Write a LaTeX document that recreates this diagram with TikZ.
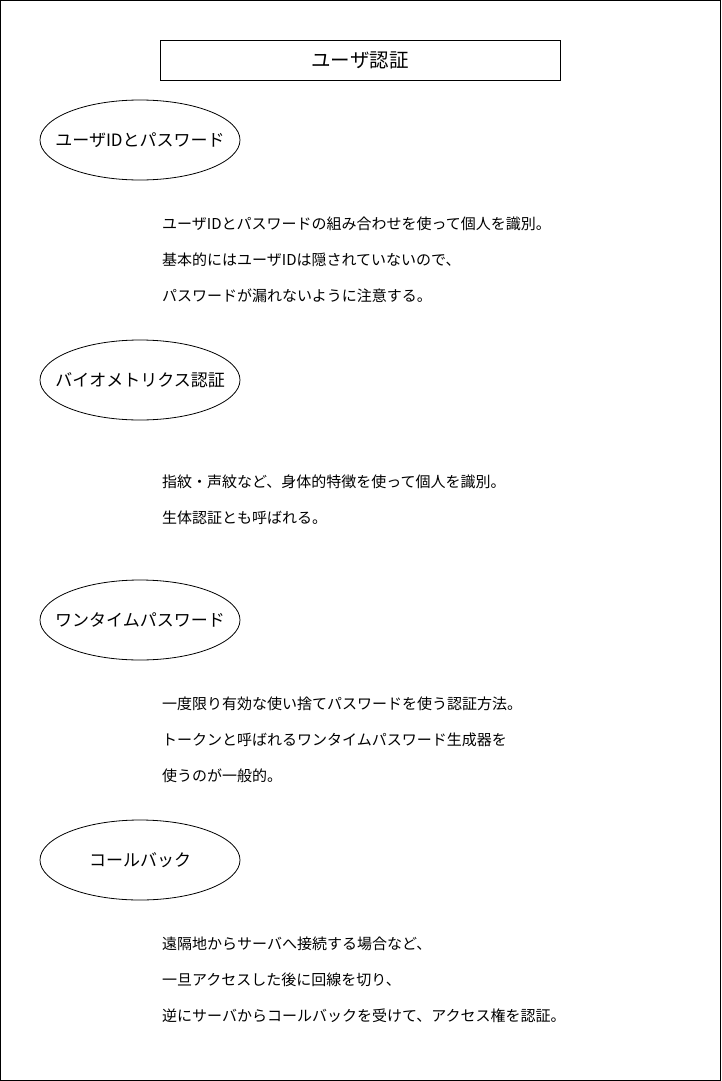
\documentclass[tikz,border=0pt]{standalone}
\usepackage{fontspec}
\setmainfont{Noto Sans CJK JP}
\usetikzlibrary{shapes.geometric}
\begin{document}
\begin{tikzpicture}[x=1pt,y=-1pt,
  frame/.style={draw=black,line width=1pt},
  titlebox/.style={draw=black,line width=0.8pt,minimum width=400pt,minimum height=40pt,inner sep=0pt,font=\fontsize{19.5}{22}\selectfont},
  topic/.style={ellipse,draw=black,line width=0.8pt,minimum width=200pt,minimum height=80pt,inner sep=0pt},
  topiclabel/.style={inner sep=0pt,font=\fontsize{17}{20}\selectfont},
  body/.style={anchor=west,inner sep=0pt,font=\fontsize{15}{18}\selectfont}]
\useasboundingbox (0,0) rectangle (721,1081);
\draw[frame] (0.5,0.5) rectangle (720.5,1080.5);
\node[titlebox] (title) at (360,60) {ユーザ認証};
\node[topic] (t1) at (140,140) {};
\node[topiclabel] (l1) at (t1.center) {ユーザIDとパスワード};
\node[body] (b11) at (162,224) {ユーザIDとパスワードの組み合わせを使って個人を識別。};
\node[body] (b12) at (162,260) {基本的にはユーザIDは隠されていないので、};
\node[body] (b13) at (162,296) {パスワードが漏れないように注意する。};
\node[topic] (t2) at (140,380) {};
\node[topiclabel] (l2) at (t2.center) {バイオメトリクス認証};
\node[body] (b21) at (162,482) {指紋・声紋など、身体的特徴を使って個人を識別。};
\node[body] (b22) at (162,518) {生体認証とも呼ばれる。};
\node[topic] (t3) at (140,620) {};
\node[topiclabel] (l3) at (t3.center) {ワンタイムパスワード};
\node[body] (b31) at (162,704) {一度限り有効な使い捨てパスワードを使う認証方法。};
\node[body] (b32) at (162,740) {トークンと呼ばれるワンタイムパスワード生成器を};
\node[body] (b33) at (162,776) {使うのが一般的。};
\node[topic] (t4) at (140,860) {};
\node[topiclabel] (l4) at (t4.center) {コールバック};
\node[body] (b41) at (162,944) {遠隔地からサーバへ接続する場合など、};
\node[body] (b42) at (162,980) {一旦アクセスした後に回線を切り、};
\node[body] (b43) at (162,1016) {逆にサーバからコールバックを受けて、アクセス権を認証。};
\end{tikzpicture}
\end{document}
